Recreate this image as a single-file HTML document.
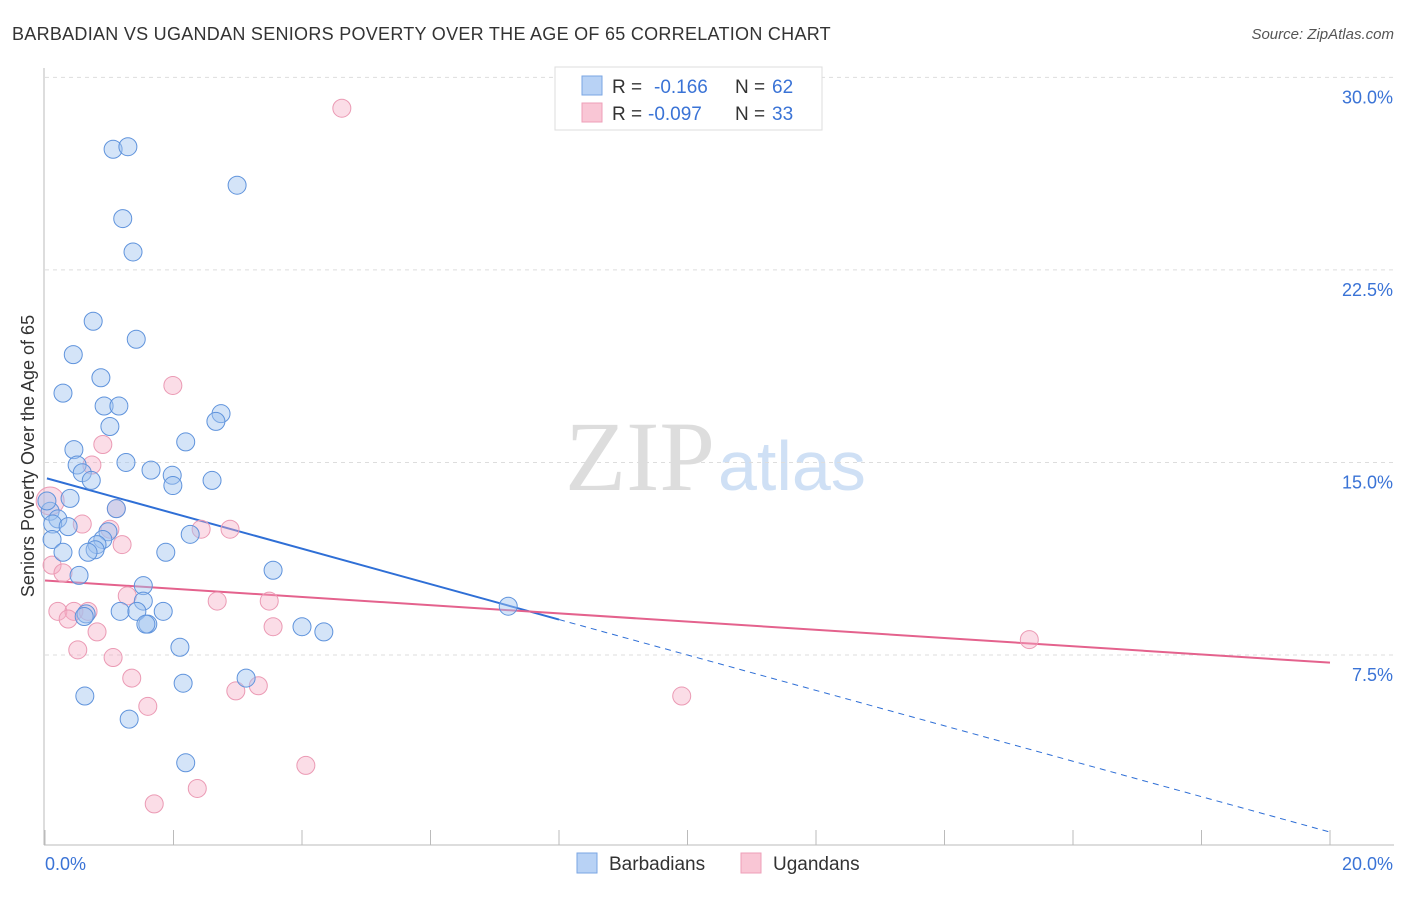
<!DOCTYPE html>
<html><head><meta charset="utf-8"><style>
body{margin:0;background:#fff;font-family:"Liberation Sans",sans-serif;}
</style></head><body>
<svg id="chart" width="1406" height="892" xmlns="http://www.w3.org/2000/svg">
<text x="12" y="40" font-size="18" fill="#333" letter-spacing="0.28">BARBADIAN VS UGANDAN SENIORS POVERTY OVER THE AGE OF 65 CORRELATION CHART</text>
<text x="1394" y="39" font-size="15" fill="#555" text-anchor="end" font-style="italic">Source: ZipAtlas.com</text>
<text x="715" y="490" font-size="100" fill="#ddd" text-anchor="end" font-family="Liberation Serif,serif">ZIP</text>
<text x="718" y="490" font-size="70" fill="#cfe0f5">atlas</text>
<g id="grid"></g><g id="axes"></g><g id="lines"></g><g id="pts"></g>
<text transform="translate(34,456) rotate(-90)" font-size="18" fill="#333" text-anchor="middle">Seniors Poverty Over the Age of 65</text>
<g>
<rect x="555" y="67" width="267" height="63" fill="#fff" stroke="#ddd"/>
<rect x="582" y="76" width="20" height="19" fill="#b8d2f5" stroke="#7aa6e3"/>
<rect x="582" y="103" width="20" height="19" fill="#f9c6d5" stroke="#ee9fb8"/>
<text x="612" y="93" font-size="19" fill="#333">R =</text>
<text x="654" y="93" font-size="19" fill="#3a73d6">-0.166</text>
<text x="735" y="93" font-size="19" fill="#333">N =</text>
<text x="772" y="93" font-size="19" fill="#3a73d6">62</text>
<text x="612" y="120" font-size="19" fill="#333">R =</text>
<text x="648" y="120" font-size="19" fill="#3a73d6">-0.097</text>
<text x="735" y="120" font-size="19" fill="#333">N =</text>
<text x="772" y="120" font-size="19" fill="#3a73d6">33</text>
</g>
<g>
<rect x="577" y="853" width="20" height="20" fill="#b8d2f5" stroke="#7aa6e3"/>
<text x="609" y="870" font-size="19" fill="#333">Barbadians</text>
<rect x="741" y="853" width="20" height="20" fill="#f9c6d5" stroke="#ee9fb8"/>
<text x="773" y="870" font-size="19" fill="#333">Ugandans</text>
</g>
</svg>
<script>
const blueX=[1.06,1.29,2.99,1.21,1.37,0.75,1.42,0.44,0.28,0.87,0.92,1.15,1.01,2.74,2.66,0.45,2.19,0.50,1.26,1.65,0.58,1.98,0.72,1.99,2.60,0.39,1.11,0.08,0.2,0.12,0.36,2.26,0.98,0.90,0.11,0.81,0.78,0.28,0.67,1.88,3.55,0.53,1.53,1.53,1.17,1.43,1.84,0.64,1.60,1.57,4.00,4.34,7.21,2.10,3.13,2.15,0.62,1.31,2.19,0.61,0.03];
const blueY=[27.2,27.3,25.8,24.5,23.2,20.5,19.8,19.2,17.7,18.3,17.2,17.2,16.4,16.9,16.6,15.5,15.8,14.9,15.0,14.7,14.6,14.5,14.3,14.1,14.3,13.6,13.2,13.1,12.8,12.6,12.5,12.2,12.3,12.0,12.0,11.8,11.6,11.5,11.5,11.5,10.8,10.6,10.2,9.6,9.2,9.2,9.2,9.1,8.7,8.7,8.6,8.4,9.4,7.8,6.6,6.4,5.9,5.0,3.3,9.0,13.5];
const pinkX=[4.62,1.99,0.90,0.73,0.08,1.11,0.58,1.01,2.43,2.88,1.20,0.11,0.28,1.28,2.68,3.49,0.2,0.45,0.67,0.36,3.55,0.81,0.51,1.06,15.32,1.35,2.97,3.32,1.60,9.91,4.06,2.37,1.70];
const pinkY=[28.8,18.0,15.7,14.9,13.5,13.2,12.6,12.4,12.4,12.4,11.8,11.0,10.7,9.8,9.6,9.6,9.2,9.2,9.2,8.9,8.6,8.4,7.7,7.4,8.1,6.6,6.1,6.3,5.5,5.9,3.2,2.3,1.7];
const blueTrend=[14.4,-0.69];
const pinkTrend=[10.4,-0.16];
const yTicks=[7.5,15.0,22.5,30.0];
const xTickLabels=["0.0%","20.0%"];
const NS="http://www.w3.org/2000/svg";
const sx=v=>45+v*64.25, sy=v=>847.5-v*25.67;
function mk(t,a,p){const e=document.createElementNS(NS,t);for(const k in a)e.setAttribute(k,a[k]);document.getElementById(p).appendChild(e);return e;}
yTicks.forEach(v=>{
 const l=mk('line',{x1:45,x2:1394,y1:sy(v),y2:sy(v),stroke:'#ddd','stroke-dasharray':'4,4'},'grid');
 
 
 const t=mk('text',{x:1393,y:sy(v)+26,'font-size':18,fill:'#3a73d6','text-anchor':'end'},'grid');
 t.textContent=v.toFixed(1)+'%';
 
 
});
const ax=mk('line',{x1:44,x2:44,y1:68,y2:845,stroke:'#bbb'},'axes');


const bx=mk('line',{x1:44,x2:1394,y1:845,y2:845,stroke:'#bbb'},'axes');


for(let i=0;i<=10;i++){const tk=mk('line',{x1:sx(i*2),x2:sx(i*2),y1:830,y2:845,stroke:'#bbb'},'axes');
 
 }
xTickLabels.forEach((s,i)=>{const t=mk('text',{x:i?1393:45,y:870,'font-size':18,fill:'#3a73d6','text-anchor':i?'end':'start'},'axes');
 t.textContent=s;
 
 });
const f=(tr,x)=>tr[0]+tr[1]*x;
let l1=mk('line',{x1:sx(0.03),y1:sy(f(blueTrend,0.03)),x2:sx(8),y2:sy(f(blueTrend,8)),stroke:'#2f6fd6','stroke-width':2},'lines');


let l2=mk('line',{x1:sx(8),y1:sy(f(blueTrend,8)),x2:sx(20),y2:sy(f(blueTrend,20)),stroke:'#2f6fd6','stroke-width':1,'stroke-dasharray':'6,5'},'lines');


let l3=mk('line',{x1:sx(0),y1:sy(f(pinkTrend,0)),x2:sx(20),y2:sy(f(pinkTrend,20)),stroke:'#e4628d','stroke-width':2},'lines');


pinkX.forEach((x,i)=>{const c=mk('circle',{cx:sx(x),cy:sy(pinkY[i]),r:i==4?14:9,fill:'rgba(245,170,195,0.4)',stroke:'#eb9ab4','stroke-width':1},'pts');
 
 });
blueX.forEach((x,i)=>{const c=mk('circle',{cx:sx(x),cy:sy(blueY[i]),r:9,fill:'rgba(160,195,240,0.45)',stroke:'#5f93dc','stroke-width':1},'pts');
 
 });
</script>
</body></html>
